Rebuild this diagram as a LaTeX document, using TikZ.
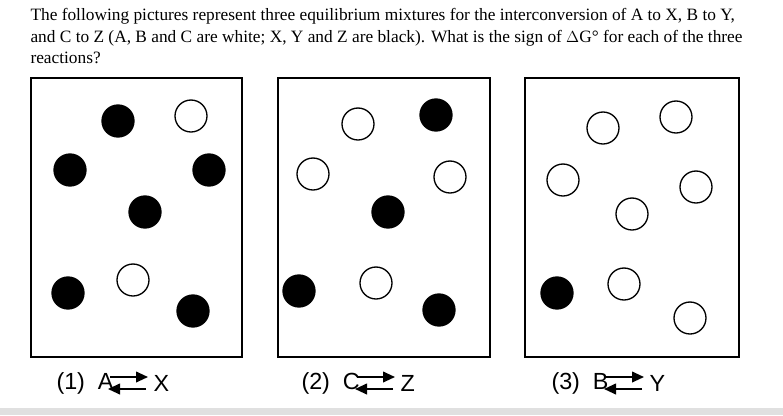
\documentclass[tikz,border=0pt]{standalone}
\usepackage{fontspec}
\setmainfont{Liberation Serif}
\setsansfont{Liberation Sans}
\usetikzlibrary{arrows.meta}
\tikzset{every picture/.style={line width=0.75pt}}
\tikzset{
  blk/.style={circle,fill=black,minimum size=25pt,inner sep=0pt},
  wht/.style={circle,draw=black,fill=white,minimum size=24pt,inner sep=0pt,line width=1pt},
  box/.style={draw=black,line width=1.2pt},
  lbl/.style={font=\sffamily\fontsize{17.5}{20}\selectfont,inner sep=0.75pt,anchor=west},
}
% equilibrium arrows: left end x, centre y
\newcommand{\eqarr}[2]{%
  \draw [line width=1.4pt,-{Triangle[length=9pt,width=8pt]}] (#1,#2-6) -- (#1+38,#2-6);
  \draw [line width=1.4pt,-{Triangle[length=9pt,width=8pt]}] (#1+36,#2+6) -- (#1-2,#2+6);
}

\begin{document}
\begin{tikzpicture}[x=0.75pt,y=0.75pt,yscale=-1,xscale=1]
	\useasboundingbox (0,0) rectangle (783,415);
	\fill [white] (0,0) rectangle (783,415);
	\fill [black!12] (0,408) rectangle (783,415);

	% question
	\node (q) [anchor=north west,inner sep=0pt,align=left,font=\fontsize{13}{16.2}\selectfont] at (30,8)
	{The following pictures represent three equilibrium mixtures for the interconversion of A to X, B to Y,\\
	 and C to Z (A, B and C are white; X, Y and Z are black). What is the sign of $\Delta$G\textdegree\ for each of the three\\
	 reactions?};

	% boxes
	\draw [box] (31,78) rectangle (242,357);
	\draw [box] (278,78) rectangle (490,357);
	\draw [box] (525,78) rectangle (739,357);

	% box 1
	\node (a1) [blk] at (118,121) {};
	\node (a2) [wht] at (191,116) {};
	\node (a3) [blk] at (70,170) {};
	\node (a4) [blk] at (209,170) {};
	\node (a5) [blk] at (145,212) {};
	\node (a6) [blk] at (68,293) {};
	\node (a7) [wht] at (133,280) {};
	\node (a8) [blk] at (193,311) {};
	% box 2
	\node (b1) [wht] at (358,124) {};
	\node (b2) [blk] at (436,115) {};
	\node (b3) [wht] at (313,174) {};
	\node (b4) [wht] at (450,177) {};
	\node (b5) [blk] at (388,212) {};
	\node (b6) [blk] at (299,291) {};
	\node (b7) [wht] at (376,283) {};
	\node (b8) [blk] at (439,310) {};
	% box 3
	\node (c1) [wht] at (603,128) {};
	\node (c2) [wht] at (676,117) {};
	\node (c3) [wht] at (563,180) {};
	\node (c4) [wht] at (696,187) {};
	\node (c5) [wht] at (632,214) {};
	\node (c6) [blk] at (557,293) {};
	\node (c7) [wht] at (624,284) {};
	\node (c8) [wht] at (690,318) {};

	% labels
	\node (l1) [lbl] at (55,383) {(1)\ \ A};
	\eqarr{110}{383}
	\node (x1) [lbl] at (152,383) {X};
	\node (l2) [lbl] at (300,383) {(2)\ \ C};
	\eqarr{357}{383}
	\node (x2) [lbl] at (399,383) {Z};
	\node (l3) [lbl] at (550,383) {(3)\ \ B};
	\eqarr{606}{383}
	\node (x3) [lbl] at (648,383) {Y};
\end{tikzpicture}
\end{document}
